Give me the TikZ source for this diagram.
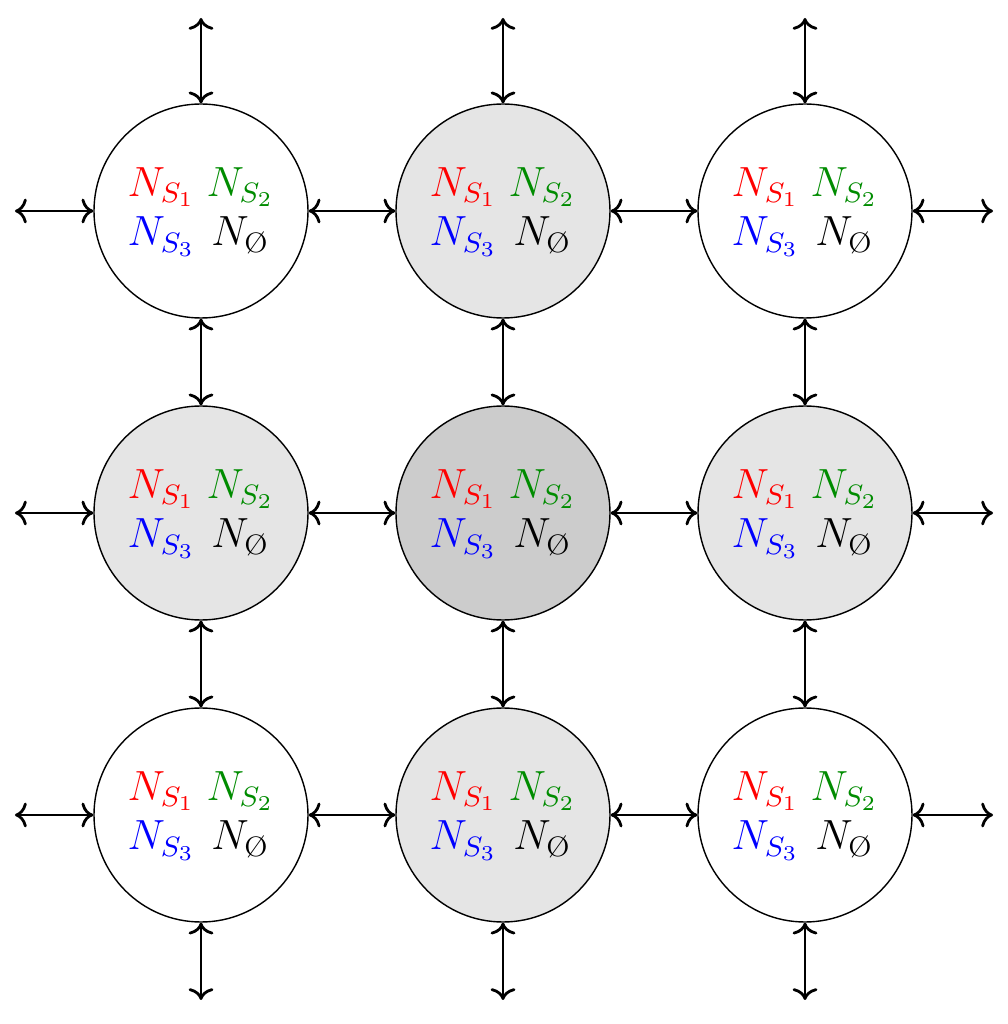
\documentclass[tikz,border=0pt]{standalone}
\usepackage{amsmath}
\usetikzlibrary{arrows.meta}
\tikzset{
  cell/.style={circle, draw=black, line width=0.4pt, minimum size=2.14cm, inner sep=0pt, font=\fontsize{12}{14.2}\selectfont},
  plain/.style={cell, fill=white},
  light/.style={cell, fill=gray!20},
  dark/.style={cell, fill=gray!40},
  link/.style={<->, thick},
}
\newcommand{\celltext}{\setlength{\tabcolsep}{1.6pt}\begin{tabular}{cc}$\color{red}N_{S_1}$ & $\color{green!55!black}N_{S_2}$\\ $\color{blue}N_{S_3}$ & $N_{\text{\O}}$\end{tabular}}
\begin{document}
\begin{tikzpicture}
\useasboundingbox (0,0) rectangle (10.08,10.24);
% cells
\node[plain] (a11) at (2.01,8.13) {\celltext};
\node[light] (a12) at (5.03,8.13) {\celltext};
\node[plain] (a13) at (8.05,8.13) {\celltext};
\node[light] (a21) at (2.01,5.11) {\celltext};
\node[dark]  (a22) at (5.03,5.11) {\celltext};
\node[light] (a23) at (8.05,5.11) {\celltext};
\node[plain] (a31) at (2.01,2.09) {\celltext};
\node[light] (a32) at (5.03,2.09) {\celltext};
\node[plain] (a33) at (8.05,2.09) {\celltext};
% free ends
\foreach \c/\x in {1/2.01,2/5.03,3/8.05}{
  \coordinate (t\c) at (\x,10.06);
  \coordinate (b\c) at (\x,0.24);
}
\foreach \r/\y in {1/8.13,2/5.11,3/2.09}{
  \coordinate (l\r) at (0.15,\y);
  \coordinate (r\r) at (9.93,\y);
}
% links
\foreach \r in {1,2,3}{
  \draw[link] (a\r1) -- (a\r2);
  \draw[link] (a\r2) -- (a\r3);
  \draw[link] (l\r) -- (a\r1);
  \draw[link] (a\r3) -- (r\r);
}
\foreach \c in {1,2,3}{
  \draw[link] (a1\c) -- (a2\c);
  \draw[link] (a2\c) -- (a3\c);
  \draw[link] (t\c) -- (a1\c);
  \draw[link] (a3\c) -- (b\c);
}
\end{tikzpicture}
\end{document}
